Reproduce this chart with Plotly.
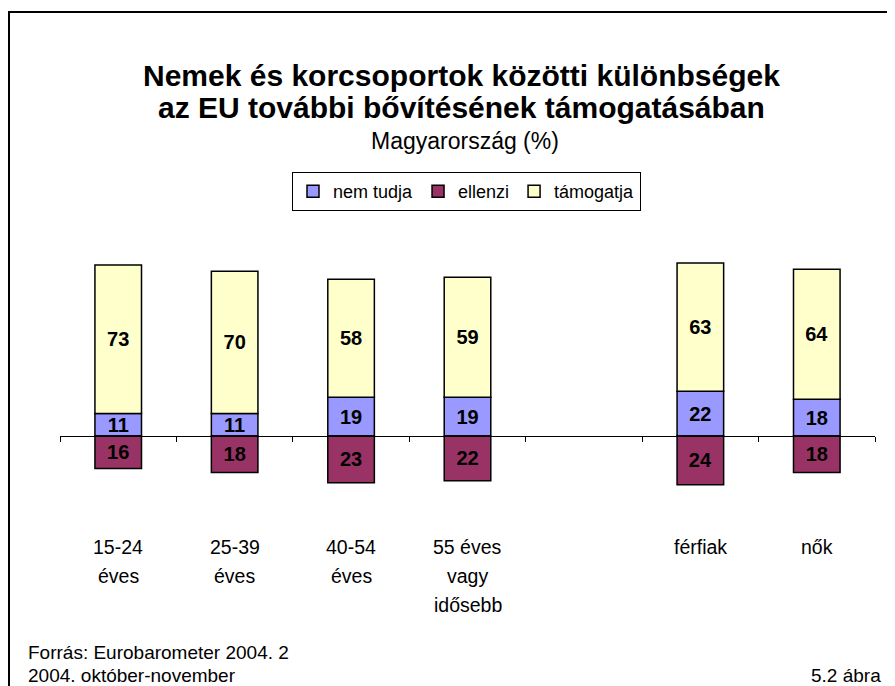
import plotly.graph_objects as go

categories = ["15-24<br>éves", "25-39<br>éves", "40-54<br>éves", "55 éves<br>vagy<br>idősebb", "", "férfiak", "nők"]
nem_tudja = [11, 11, 19, 19, None, 22, 18]
ellenzi = [16, 18, 23, 22, None, 24, 18]
tamogatja = [73, 70, 58, 59, None, 63, 64]

FONT = "Arial, Liberation Sans, sans-serif"
OFF = 8  # page body margin
W, H = 895 - OFF, 686 - OFF
L, R, T, B = 60 - OFF, 20, 250 - OFF, 156
PW, PH = W - L - R, H - T - B
YMIN, YMAX = -46.2, 91.4

def px(x):
    # page pixel x -> paper fraction
    return (x - OFF - L) / PW

def py(y):
    # page pixel y -> paper fraction
    return (H - B - (y - OFF)) / PH

xs = list(range(len(categories)))
ell_neg = [None if v is None else -v for v in ellenzi]

def lbl(vals):
    return ["" if v is None else str(v) for v in vals]

line = dict(color="black", width=1.5)
fig = go.Figure()
fig.add_trace(go.Bar(x=xs, y=nem_tudja, name="nem tudja", marker=dict(color="#9999FF", line=line),
                     text=lbl(nem_tudja)))
fig.add_trace(go.Bar(x=xs, y=ell_neg, name="ellenzi", marker=dict(color="#993366", line=line),
                     text=lbl(ellenzi)))
fig.add_trace(go.Bar(x=xs, y=tamogatja, name="támogatja", marker=dict(color="#FFFFCC", line=line),
                     text=lbl(tamogatja)))
fig.update_traces(textposition="inside", insidetextanchor="middle", textangle=0,
                  textfont=dict(family=FONT, size=20, color="black", weight="bold"),
                  constraintext="none", width=0.4, hoverinfo="skip")

annotations = []
for i, c in enumerate(categories):
    for j, part in enumerate(c.split("<br>")):
        if part:
            annotations.append(dict(x=i, xref="x", y=py(547 + 29 * j), yref="paper",
                                    text=part, showarrow=False, xanchor="center", yanchor="middle",
                                    font=dict(family=FONT, size=19.5, color="black")))

annotations += [
    dict(x=px(461), y=py(75), xref="paper", yref="paper", showarrow=False,
         text="<b>Nemek és korcsoportok közötti különbségek</b>", xanchor="center", yanchor="middle",
         font=dict(family=FONT, size=30, color="black")),
    dict(x=px(461), y=py(107), xref="paper", yref="paper", showarrow=False,
         text="<b>az EU további bővítésének támogatásában</b>", xanchor="center", yanchor="middle",
         font=dict(family=FONT, size=30, color="black")),
    dict(x=px(465), y=py(141), xref="paper", yref="paper", showarrow=False,
         text="Magyarország (%)", xanchor="center", yanchor="middle",
         font=dict(family=FONT, size=23, color="black")),
    dict(x=px(26), y=py(652), xref="paper", yref="paper", showarrow=False,
         text="Forrás: Eurobarometer 2004. 2", xanchor="left", yanchor="middle",
         font=dict(family=FONT, size=19, color="black")),
    dict(x=px(26), y=py(675), xref="paper", yref="paper", showarrow=False,
         text="2004. október-november", xanchor="left", yanchor="middle",
         font=dict(family=FONT, size=19, color="black")),
    dict(x=px(883), y=py(675), xref="paper", yref="paper", showarrow=False,
         text="5.2 ábra", xanchor="right", yanchor="middle",
         font=dict(family=FONT, size=19, color="black")),
]

shapes = [
    dict(type="line", xref="paper", yref="paper", x0=px(9), x1=px(9), y0=py(12), y1=py(700),
         line=dict(color="black", width=2)),
    dict(type="line", xref="paper", yref="paper", x0=px(8), x1=px(910), y0=py(12), y1=py(12),
         line=dict(color="black", width=2)),
]

zero_pos = (0 - YMIN) / (YMAX - YMIN)
fig.update_layout(
    width=W, height=H,
    margin=dict(l=L, r=R, t=T, b=B, autoexpand=False),
    paper_bgcolor="white", plot_bgcolor="white",
    barmode="relative",
    showlegend=True,
    legend=dict(orientation="h", x=px(292), y=py(172), xanchor="left", yanchor="top",
                bordercolor="black", borderwidth=1, bgcolor="white",
                font=dict(family=FONT, size=18, color="black"),
                itemwidth=30, tracegroupgap=0),
    xaxis=dict(range=[-0.5, len(categories) - 0.5], anchor="free", position=zero_pos,
               showline=True, linecolor="black", linewidth=1,
               tickmode="array", tickvals=[i - 0.5 for i in range(len(categories) + 1)],
               ticks="outside", ticklen=5, tickcolor="black", showticklabels=False,
               showgrid=False, zeroline=False),
    yaxis=dict(range=[YMIN, YMAX], visible=False, showgrid=False, zeroline=False),
    annotations=annotations,
    shapes=shapes,
    font=dict(family=FONT, color="black"),
)

fig.write_html("out.html")
